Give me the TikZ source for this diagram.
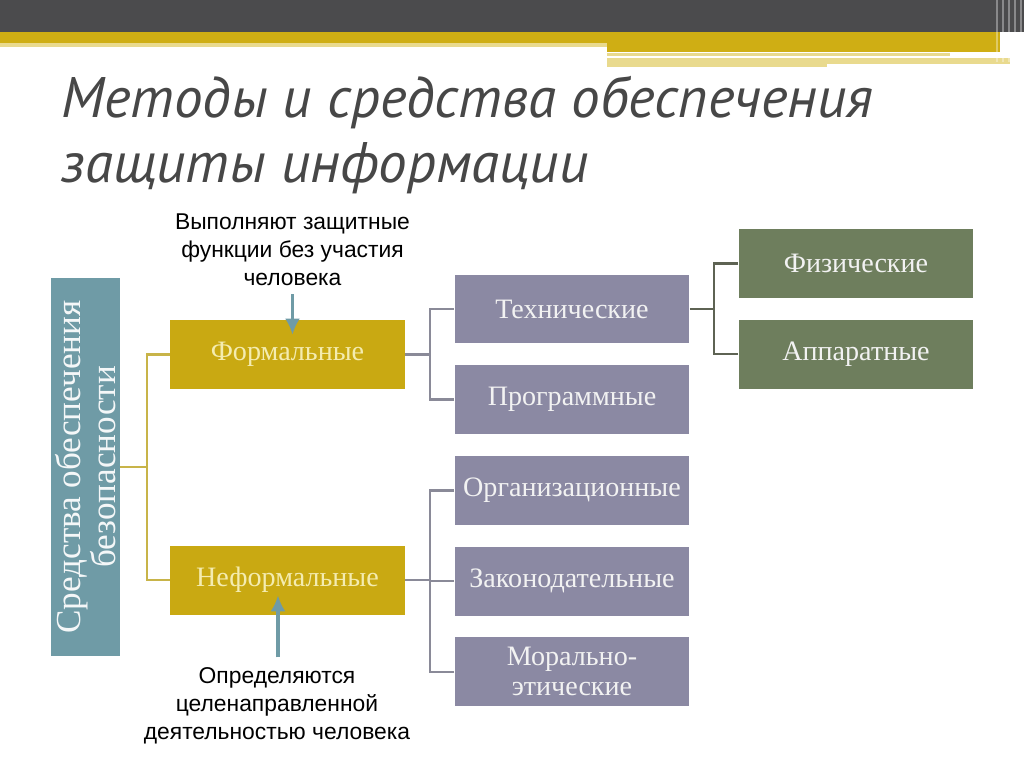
\documentclass[tikz,border=0pt]{standalone}
\usepackage{fontspec}
\setmainfont{Liberation Serif}
\newfontfamily\notefont{Liberation Sans}
\newfontfamily\headfont{PT Sans}
\usetikzlibrary{positioning, arrows.meta}

\definecolor{barGray}{HTML}{4B4B4D}
\definecolor{barYellow}{HTML}{CFAE14}
\definecolor{barPale}{HTML}{E9DA8E}
\definecolor{headGray}{HTML}{474747}
\definecolor{boxTeal}{HTML}{6F9BA6}
\definecolor{boxMustard}{HTML}{C9A912}
\definecolor{boxLilac}{HTML}{8B89A3}
\definecolor{boxGreen}{HTML}{6E7E5D}
\definecolor{textPale}{HTML}{F4ECB0}
\definecolor{lineMustard}{HTML}{C8B449}
\definecolor{lineGray}{HTML}{8A8A98}
\definecolor{lineDark}{HTML}{5E6353}

\begin{document}
\begin{tikzpicture}[x=0.02cm, y=-0.02cm,
  box/.style={rectangle, inner sep=0pt, minimum width=4.7cm, minimum height=1.38cm,
    font=\fontsize{16}{17}\selectfont, text=white!95!black, align=center},
  formbox/.style={box, fill=boxMustard, text=textPale},
  techbox/.style={box, fill=boxLilac},
  physbox/.style={box, fill=boxGreen},
  note/.style={font=\notefont\fontsize{13}{15.9}\selectfont, align=center, inner sep=0pt},
  yline/.style={draw=lineMustard, line width=1.4pt},
  gline/.style={draw=lineGray, line width=1.4pt},
  dline/.style={draw=lineDark, line width=1.4pt},
  tealarrow/.style={-{Latex[length=0.32cm, width=0.3cm]}, draw=boxTeal, line width=2.2pt}]

\useasboundingbox[fill=white] (0,0) rectangle (1024,767);

% top bars
\fill[barGray] (0,0) rectangle (1024,32);
\fill[barYellow] (0,32) rectangle (1000,43);
\fill[barYellow] (607,32) rectangle (1000,52);
\fill[barPale] (0,43) rectangle (607,47);
\fill[barPale] (607,53) rectangle (950,56);
\fill[barPale] (607,58) rectangle (1010,64);
\fill[barPale] (607,64) rectangle (827,67);
\foreach \sx in {997,1003,1009,1015,1021}
  \draw[white, opacity=0.35, line width=1.5pt] (\sx,0) -- (\sx,62);

% title
\node (head) [anchor=north west, inner sep=0pt, align=left, text=headGray,
  font=\headfont\itshape\fontsize{32.5}{37}\selectfont] at (61,76)
  {Методы и средства обеспечения\\защиты информации};

% boxes
\node (safety) [rectangle, fill=boxTeal, minimum width=1.38cm, minimum height=7.56cm,
  inner sep=0pt] at (85.5,467) {};
\node [rotate=90, align=center, text=white!92!boxTeal,
  font=\fontsize{20}{20}\selectfont] at (safety.center)
  {Средства обеспечения\\безопасности};

\node (formal) [formbox] at (287.5,354.5) {Формальные};
\node (informal) [formbox] at (287.5,580) {Неформальные};

\node (tech) [techbox] at (572,309) {Технические};
\node (prog) [techbox, below=0.42cm of tech] {Программные};
\node (org) [techbox, below=0.42cm of prog] {Организационные};
\node (law) [techbox, below=0.42cm of org] {Законодательные};
\node (moral) [techbox, below=0.42cm of law] {Морально-\\этические};

\node (phys) [physbox] at (856,263.5) {Физические};
\node (hw) [physbox, below=0.42cm of phys] {Аппаратные};

% notes
\node (note1) [note] at (292.5,250) {Выполняют защитные\\функции без участия\\человека};
\node (note2) [note] at (277,706) {Определяются\\целенаправленной\\деятельностью человека};

% connectors
\coordinate (f0) at (147,467);
\coordinate (f1) at (430,354.5);
\coordinate (f2) at (430,580);
\coordinate (f3) at (714,309);

\draw[yline] (safety.east) -- (f0);
\draw[yline] (formal.west) -| (f0);
\draw[yline] (informal.west) -| (f0);

\draw[gline] (formal.east) -- (f1);
\draw[gline] (tech.west) -| (f1);
\draw[gline] (prog.west) -| (f1);

\draw[gline] (informal.east) -- (f2);
\draw[gline] (org.west) -| (f2);
\draw[gline] (law.west) -| (f2);
\draw[gline] (moral.west) -| (f2);

\draw[dline] (tech.east) -- (f3);
\draw[dline] (phys.west) -| (f3);
\draw[dline] (hw.west) -| (f3);

% arrows
\draw[tealarrow] ([yshift=-0.16cm]note1.south) -- ([yshift=-0.3cm]note1.south |- formal.north);
\draw[tealarrow] ([yshift=0.2cm]note2.north -| 278,0) -- ([yshift=0.39cm]informal.south -| 278,0);
\end{tikzpicture}
\end{document}
